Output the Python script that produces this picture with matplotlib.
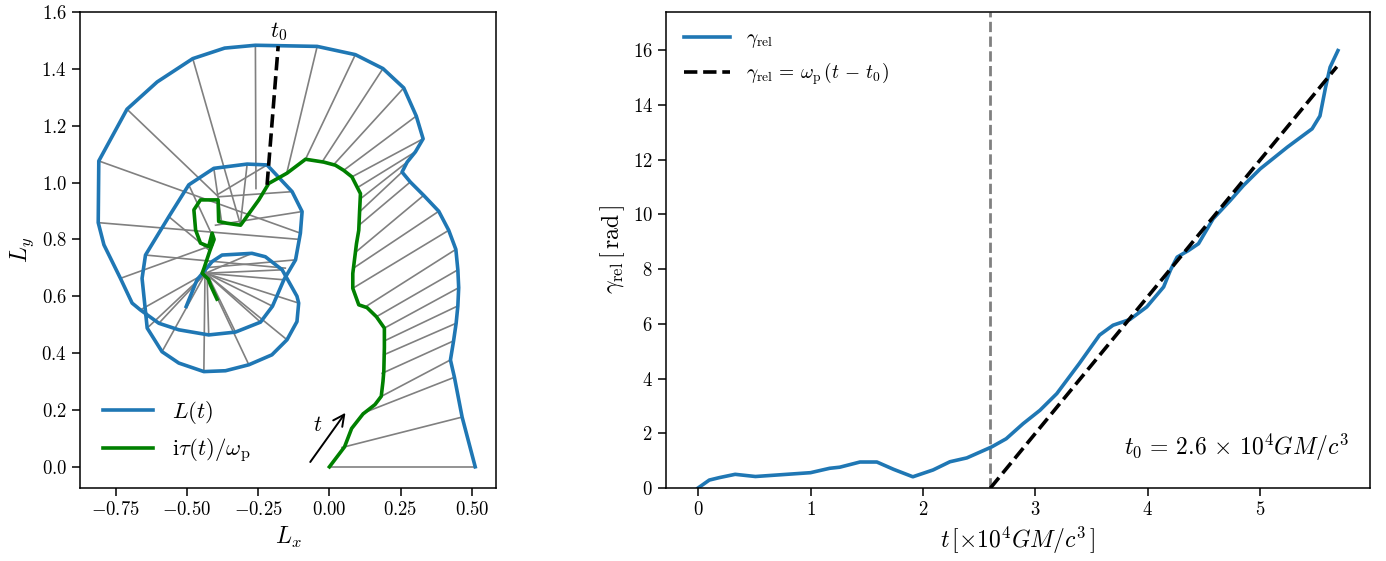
import numpy as np
import matplotlib
matplotlib.use("Agg")
import matplotlib.pyplot as plt

plt.rcParams['mathtext.fontset'] = 'cm'
plt.rcParams['font.family'] = 'serif'
plt.rcParams['font.serif'] = ['cmr10', 'DejaVu Serif']
plt.rcParams['axes.formatter.use_mathtext'] = True
plt.rcParams['axes.linewidth'] = 1.1

# ---- left panel: L(t) track, normals, and i tau / omega_p ----
Lx = [0.512, 0.466, 0.439, 0.425, 0.436, 0.445, 0.451, 0.454, 0.451, 0.444,
      0.419, 0.384, 0.331, 0.284, 0.255, 0.273, 0.302, 0.329, 0.305, 0.261,
      0.188, 0.091, -0.043, -0.260, -0.368, -0.480, -0.605, -0.711, -0.810, -0.812,
      -0.792, -0.734, -0.693, -0.664, -0.599, -0.529, -0.424, -0.330, -0.242, -0.200,
      -0.160, -0.119, -0.102, -0.096, -0.131, -0.219, -0.289, -0.406, -0.494, -0.564,
      -0.646, -0.658, -0.640, -0.588, -0.529, -0.441, -0.365, -0.283, -0.202, -0.149,
      -0.114, -0.108, -0.114, -0.166, -0.225, -0.272, -0.377, -0.412, -0.465, -0.503]
Ly = [0.000, 0.175, 0.315, 0.376, 0.443, 0.505, 0.566, 0.630, 0.693, 0.765,
      0.832, 0.899, 0.955, 1.002, 1.037, 1.072, 1.108, 1.154, 1.234, 1.333,
      1.401, 1.450, 1.479, 1.483, 1.473, 1.436, 1.354, 1.258, 1.076, 0.859,
      0.781, 0.663, 0.576, 0.552, 0.505, 0.482, 0.464, 0.474, 0.509, 0.565,
      0.658, 0.728, 0.822, 0.898, 0.968, 1.062, 1.065, 1.050, 0.992, 0.880,
      0.745, 0.663, 0.488, 0.405, 0.365, 0.335, 0.338, 0.359, 0.394, 0.447,
      0.511, 0.576, 0.600, 0.693, 0.739, 0.751, 0.745, 0.722, 0.658, 0.564]
nan = np.nan
# other end of each grey segment (nan = no segment)
Px = [0.000, 0.044, 0.118, 0.177, 0.185, 0.191, 0.193, 0.193, 0.165, 0.125,
      0.082, 0.086, 0.098, 0.104, 0.106, 0.109, 0.103, 0.079, 0.050, 0.015,
      -0.026, -0.084, -0.149, -0.258, nan, -0.312, nan, -0.389, -0.102, -0.105,
      nan, -0.410, nan, -0.435, -0.435, nan, -0.430, -0.435, -0.435, -0.440,
      -0.435, -0.440, nan, -0.400, -0.389, -0.389, -0.313, -0.380, -0.405, -0.420,
      -0.155, nan, -0.435, -0.435, nan, -0.437, nan, -0.435, nan, -0.435,
      nan, -0.435, nan, -0.435, nan, -0.435, nan, nan, nan, nan]
Py = [0.000, 0.068, 0.189, 0.245, 0.329, 0.394, 0.443, 0.488, 0.528, 0.562,
      0.628, 0.700, 0.760, 0.850, 0.897, 0.943, 0.985, 1.020, 1.043, 1.063,
      1.072, 1.082, 1.037, 0.979, nan, 0.850, nan, 0.949, 0.822, 0.800,
      nan, 0.780, nan, 0.681, 0.681, nan, 0.681, 0.690, 0.681, 0.685,
      0.681, 0.700, nan, 0.850, 0.950, 0.960, 0.851, 0.870, 0.800, 0.760,
      0.699, nan, 0.681, 0.681, nan, 0.681, nan, 0.681, nan, 0.681,
      nan, 0.681, nan, 0.681, nan, 0.681, nan, nan, nan, nan]
Gx = [0.000, 0.053, 0.078, 0.118, 0.160, 0.182, 0.188, 0.191, 0.193, 0.193,
      0.165, 0.132, 0.103, 0.082, 0.082, 0.095, 0.103, 0.106, 0.109, 0.079,
      0.050, 0.021, -0.020, -0.084, -0.149, -0.213, -0.248, -0.312, -0.360, -0.389,
      -0.391, -0.453, -0.476, -0.470, -0.453, -0.424, -0.412, -0.405, -0.420, -0.440,
      -0.447, -0.425, -0.418, -0.395]
Gy = [0.000, 0.070, 0.135, 0.186, 0.219, 0.248, 0.300, 0.336, 0.420, 0.488,
      0.528, 0.560, 0.570, 0.628, 0.680, 0.785, 0.832, 0.900, 0.961, 1.020,
      1.043, 1.061, 1.072, 1.082, 1.033, 0.997, 0.939, 0.850, 0.857, 0.863,
      0.939, 0.939, 0.904, 0.833, 0.787, 0.775, 0.822, 0.800, 0.760, 0.700,
      0.681, 0.660, 0.640, 0.590]
t0_seg_x = [-0.219, -0.180]
t0_seg_y = [0.992, 1.480]

# ---- right panel ----
t = [0.00, 0.10, 0.19, 0.33, 0.51, 0.72, 1.00, 1.17, 1.26, 1.44, 1.59, 1.74,
     1.91, 2.09, 2.24, 2.39, 2.61, 2.74, 2.89, 3.04, 3.19, 3.39, 3.57, 3.69,
     3.84, 3.99, 4.14, 4.20, 4.26, 4.36, 4.45, 4.58, 4.73, 4.85, 5.00, 5.24,
     5.46, 5.53, 5.58, 5.62, 5.69]
gamma_rel = [0.00, 0.29, 0.38, 0.50, 0.42, 0.48, 0.56, 0.72, 0.76, 0.95, 0.95, 0.68,
             0.41, 0.66, 0.96, 1.10, 1.50, 1.80, 2.35, 2.84, 3.45, 4.55, 5.59, 5.95,
             6.16, 6.62, 7.35, 7.96, 8.44, 8.68, 8.93, 9.84, 10.50, 11.06, 11.67, 12.46,
             13.13, 13.60, 14.65, 15.38, 15.99]
t0 = 2.6
omega_p = 5.0
t_fit = [t0, 5.68]

fig = plt.figure(figsize=(13.86, 5.61), dpi=100)
ax1 = fig.add_axes([80/1386, 1-488/561, 416/1386, 476/561])
ax2 = fig.add_axes([666/1386, 1-488/561, 704/1386, 476/561])

for i in range(len(Lx)):
    if not np.isnan(Px[i]):
        ax1.plot([Lx[i], Px[i]], [Ly[i], Py[i]], color='gray', lw=1.2, zorder=1)
ax1.plot(Lx, Ly, color='#1f77b4', lw=2.6, label=r'$L(t)$', zorder=3)
ax1.plot(Gx, Gy, color='green', lw=2.6, label=r'${\rm i}\tau(t)/\omega_{\rm p}$', zorder=3)
ax1.plot(t0_seg_x, t0_seg_y, 'k--', lw=2.6, zorder=4)
ax1.text(t0_seg_x[1], t0_seg_y[1] + 0.01, r'$t_0$', fontsize=16, ha='center', va='bottom')
ax1.annotate('', xy=(0.062, 0.198), xytext=(-0.073, 0.009),
             arrowprops=dict(arrowstyle='->', color='k', lw=1.4, mutation_scale=20))
ax1.text(-0.040, 0.145, r'$t$', fontsize=16, ha='center', va='center')
ax1.set_xlim(-0.876, 0.585)
ax1.set_ylim(-0.0745, 1.6)
ax1.set_xticks([-0.75, -0.5, -0.25, 0.0, 0.25, 0.5])
ax1.set_xlabel(r'$L_x$', fontsize=17)
ax1.set_ylabel(r'$L_y$', fontsize=17)
ax1.tick_params(labelsize=13.5, length=6, width=1.1)
ax1.legend(loc='lower left', frameon=False, fontsize=16.5, handlelength=2.2,
           labelspacing=0.5, borderaxespad=0.6)

ax2.axvline(t0, color='gray', ls='--', lw=2.0)
ax2.plot(t, gamma_rel, color='#1f77b4', lw=2.6, label=r'$\gamma_{\rm rel}$')
ax2.plot(t_fit, [omega_p * (x - t0) for x in t_fit], 'k--', lw=2.6,
         label=r'$\gamma_{\rm rel} \,=\, \omega_{\rm p}\,(t \,-\, t_0)$')
ax2.set_xlim(-0.285, 5.975)
ax2.set_ylim(0, 17.4)
ax2.set_yticks(range(0, 17, 2))
ax2.set_xlabel(r'$t\,[\times 10^4 GM/c^3\,]$', fontsize=17)
ax2.set_ylabel(r'$\gamma_{\rm rel}\,[\,{\rm rad}\,]$', fontsize=17)
ax2.tick_params(labelsize=13.5, length=6, width=1.1)
ax2.text(0.969, 0.086, r'$t_0 \,=\, 2.6 \,\times\, 10^4 GM/c^3$', transform=ax2.transAxes,
         fontsize=17, ha='right', va='center')
ax2.legend(loc='upper left', frameon=False, fontsize=14, handlelength=2.4)

fig.savefig('out.png', dpi=100)
